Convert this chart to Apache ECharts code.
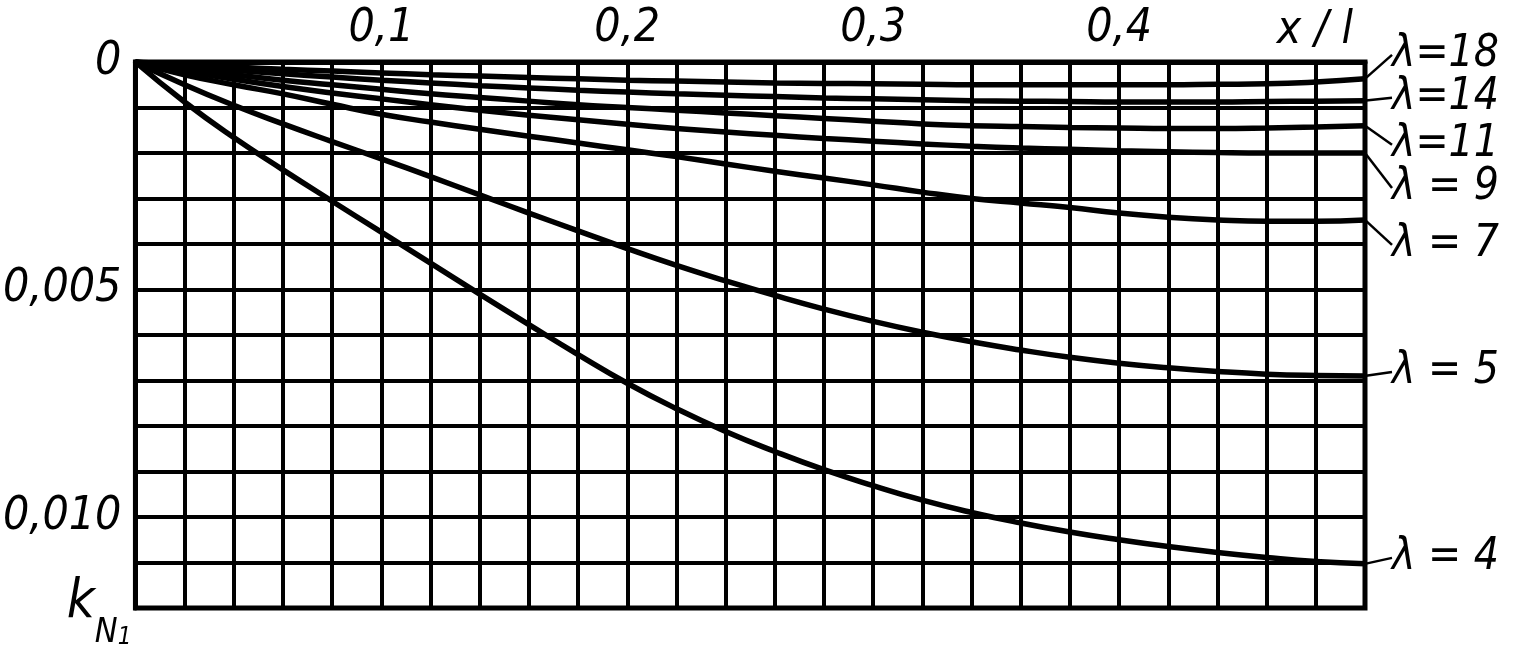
<!DOCTYPE html>
<html><head><meta charset="utf-8">
<script src="https://cdn.jsdelivr.net/npm/echarts@6/dist/echarts.min.js"></script>
<style>html,body{margin:0;padding:0;background:#fff}#c{width:1519px;height:654px}</style>
</head><body><div id="c"></div>
<script>
// x / l positions (grid columns every 0.02)
const xValues = [0,0.02,0.04,0.06,0.08,0.10,0.12,0.14,0.16,0.18,0.20,0.22,0.24,0.26,0.28,0.30,0.32,0.34,0.36,0.38,0.40,0.42,0.44,0.46,0.48,0.50];

// k_N1 for each lambda
const kLambda18 = [0,0.00006,0.00011,0.00016,0.0002,0.00024,0.00028,0.00031,0.00034,0.00037,0.0004,0.00042,0.00044,0.00046,0.00047,0.00048,0.00049,0.0005,0.0005,0.0005,0.0005,0.0005,0.00049,0.00048,0.00044,0.00037];
const kLambda14 = [0,0.0001,0.00018,0.00026,0.00033,0.0004,0.00046,0.00052,0.00057,0.00062,0.00066,0.0007,0.00073,0.00076,0.00079,0.00081,0.00083,0.00085,0.00086,0.00087,0.00088,0.00088,0.00088,0.00087,0.00086,0.00085];
const kLambda11 = [0,0.00015,0.00028,0.0004,0.0005,0.0006,0.0007,0.00078,0.00086,0.00094,0.001,0.00106,0.00112,0.00118,0.00124,0.0013,0.00136,0.0014,0.00142,0.00144,0.00145,0.00146,0.00146,0.00145,0.00143,0.0014];
const kLambda9  = [0,0.0002,0.00038,0.00054,0.00068,0.00081,0.00094,0.00106,0.00117,0.00127,0.00137,0.00146,0.00154,0.00161,0.00168,0.00174,0.0018,0.00185,0.00189,0.00192,0.00195,0.00197,0.00199,0.002,0.002,0.002];
const kLambda7  = [0,0.00028,0.0005,0.0007,0.00093,0.00115,0.00132,0.00148,0.00163,0.00178,0.00193,0.00208,0.00224,0.0024,0.00255,0.0027,0.00286,0.003,0.0031,0.0032,0.00332,0.00341,0.00347,0.0035,0.0035,0.00347];
const kLambda5  = [0,0.0005,0.00095,0.00136,0.00175,0.00213,0.00252,0.00292,0.00332,0.00371,0.0041,0.00447,0.00481,0.00513,0.00543,0.0057,0.00594,0.00615,0.00633,0.00649,0.00662,0.00672,0.0068,0.00686,0.00689,0.0069];
const kLambda4  = [0,0.00088,0.00166,0.00237,0.00306,0.00374,0.00442,0.0051,0.00577,0.00643,0.00706,0.00762,0.00812,0.00856,0.00896,0.00931,0.00963,0.0099,0.01013,0.01033,0.0105,0.01065,0.01078,0.01089,0.01098,0.01103];

const seriesNames = ['λ=18','λ=14','λ=11','λ = 9','λ = 7','λ = 5','λ = 4'];
const seriesValues = [kLambda18,kLambda14,kLambda11,kLambda9,kLambda7,kLambda5,kLambda4];

// tick labels
const xTickValues = [0.1,0.2,0.3,0.4];
const xTickLabels = ['0,1','0,2','0,3','0,4'];
const yTickValues = [0,0.005,0.010];
const yTickLabels = ['0','0,005','0,010'];
const xAxisName = 'x / l';

// label placement (style, not data)
const labelDy = [-24,-3,19,35,25,-4,-6];

const FONT = "'Liberation Sans Narrow','DejaVu Sans Condensed','Liberation Sans',sans-serif";
function pick(vals, labels, v){
  for (let i=0;i<vals.length;i++) if (Math.abs(vals[i]-v) < 1e-9) return labels[i];
  return '';
}

const chart = echarts.init(document.getElementById('c'), null, {renderer:'canvas'});
chart.setOption({
  animation:false,
  backgroundColor:'#fff',
  grid:{left:128, top:62, right:154, bottom:46, show:true, borderColor:'#000', borderWidth:5},
  xAxis:{
    type:'value', position:'top', min:0, max:0.5, interval:0.02,
    axisLine:{show:true, lineStyle:{color:'#000', width:5}},
    axisTick:{show:false},
    splitLine:{show:true, lineStyle:{color:'#000', width:4}},
    axisLabel:{margin:10, color:'#000', fontFamily:FONT, fontSize:46, fontStyle:'italic',
      formatter:v=>pick(xTickValues,xTickLabels,v)},
    name:xAxisName, nameLocation:'end', nameGap:-12,
    nameTextStyle:{color:'#000', fontFamily:FONT, fontSize:46, fontStyle:'italic', align:'right', verticalAlign:'bottom', padding:[0,0,8,0]}
  },
  yAxis:{
    type:'value', inverse:true, min:0, max:0.012, interval:0.001,
    axisLine:{show:true, lineStyle:{color:'#000', width:5}},
    axisTick:{show:false},
    splitLine:{show:true, lineStyle:{color:'#000', width:4}},
    axisLabel:{margin:14, color:'#000', fontFamily:FONT, fontSize:46, fontStyle:'italic',
      formatter:v=>pick(yTickValues,yTickLabels,v)},
    name:'{k|k}{n|N}{s|1}', nameLocation:'end', nameGap:-32,
    nameTextStyle:{align:'right', verticalAlign:'top', padding:[0,4,0,0],
      rich:{
        k:{fontFamily:FONT, fontSize:54, fontStyle:'italic', color:'#000', verticalAlign:'top', lineHeight:74},
        n:{fontFamily:FONT, fontSize:34, fontStyle:'italic', color:'#000', verticalAlign:'bottom', lineHeight:74},
        s:{fontFamily:FONT, fontSize:24, fontStyle:'italic', color:'#000', verticalAlign:'bottom', lineHeight:74}
      }}
  },
  series: seriesValues.map((vals, si) => ({
    type:'line', name:seriesNames[si], smooth:true,
    showSymbol:true, symbol:'circle', symbolSize:2,
    itemStyle:{color:'#000'},
    lineStyle:{color:'#000', width:5.5},
    label:{show:false, position:'right', distance:26, formatter:'{a}', color:'#000',
      fontFamily:FONT, fontSize:44, fontStyle:'italic'},
    labelLine:{show:true, lineStyle:{color:'#000', width:2.5}},
    labelLayout:{dy:labelDy[si]},
    data: xValues.map((x,i) => i === xValues.length-1
      ? {value:[x, vals[i]], label:{show:true}}
      : [x, vals[i]])
  }))
});
</script></body></html>
